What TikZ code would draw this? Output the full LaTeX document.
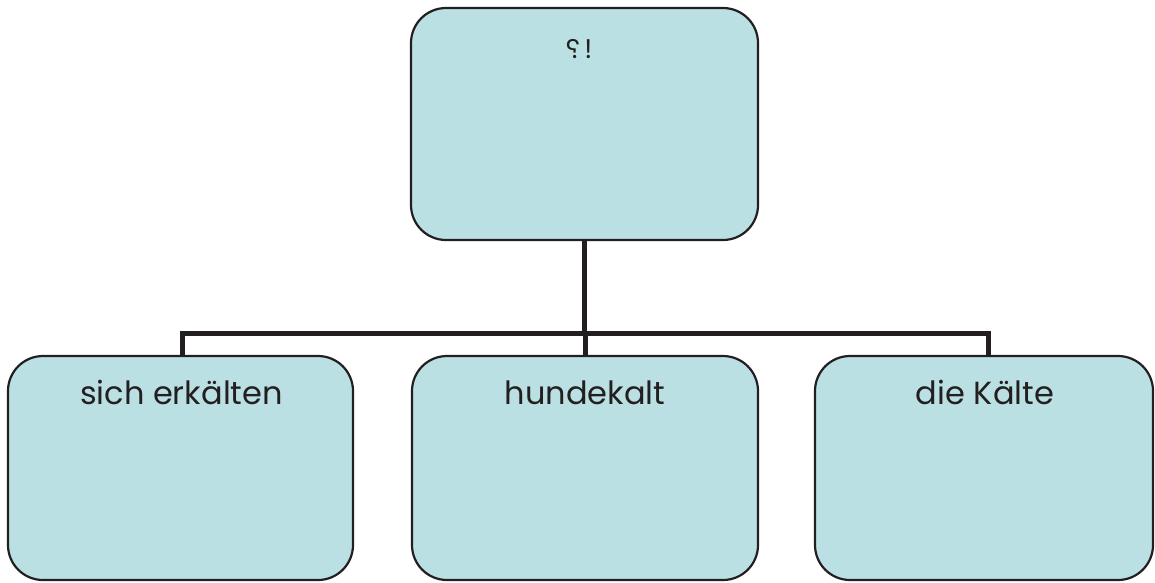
\documentclass[tikz,border=0pt]{standalone}
\usepackage{fontspec}
\setmainfont{Poppins}
\usepackage{graphicx}
\definecolor{boxfill}{RGB}{186,224,227}
\definecolor{edge}{RGB}{35,31,32}
\begin{document}
\begin{tikzpicture}[x=1pt,y=-1pt,
  box/.style={draw=edge, line width=2.2pt, fill=boxfill, rounded corners=35pt, inner sep=0pt},
  lbl/.style={anchor=base, inner sep=0pt, text=edge, font=\fontsize{32}{36}\selectfont},
  toplbl/.style={anchor=base, inner sep=0pt, text=edge, font=\fontsize{27}{30}\selectfont},
  conn/.style={draw=edge, line width=5pt, line join=miter}]
\useasboundingbox (0,0) rectangle (1155,582);
\node[box, minimum width=347pt, minimum height=232pt] (top) at (584.5,124) {};
\node[box, minimum width=345pt, minimum height=224pt] (left) at (180.5,468) {};
\node[box, minimum width=346pt, minimum height=224pt] (mid) at (585,468) {};
\node[box, minimum width=338pt, minimum height=224pt] (right) at (984,468) {};
\node[toplbl] (ttop) at (579,58) {\reflectbox{?}\,!};
\node[lbl] (tleft) at (181.5,404) {sich erkälten};
\node[lbl] (tmid) at (585,404) {hundekalt};
\node[lbl] (tright) at (985,404) {die Kälte};
\coordinate (bus) at (584,333);
\draw[conn] (top.south -| bus) -- (bus);
\draw[conn] (bus -| mid.north) -- (mid.north);
\draw[conn] ([xshift=1.5pt]left.north) |- (bus) -| ([xshift=4pt]right.north);
\end{tikzpicture}
\end{document}
